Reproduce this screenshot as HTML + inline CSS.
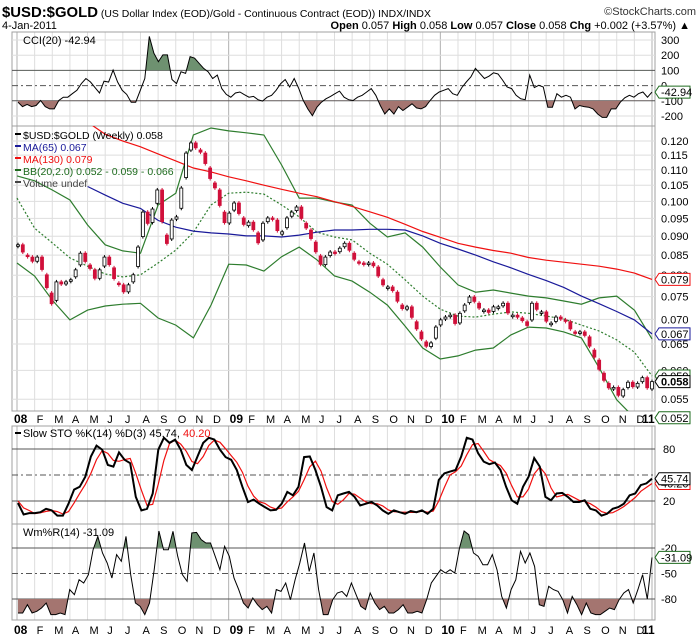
<!DOCTYPE html>
<html><head><meta charset="utf-8"><title>$USD:$GOLD</title>
<style>
html,body{margin:0;padding:0;background:#fff;width:700px;height:639px;overflow:hidden}
svg{display:block;font-family:"Liberation Sans",sans-serif}
</style></head>
<body>
<svg id="chart" width="700" height="639" viewBox="0 0 700 639" xmlns="http://www.w3.org/2000/svg">
<rect x="0" y="0" width="700" height="639" fill="#fff"/>
<text x="2" y="17" font-size="10.5" fill="#000"><tspan font-size="15" font-weight="bold" textLength="96" lengthAdjust="spacingAndGlyphs">$USD:$GOLD</tspan> <tspan textLength="330" lengthAdjust="spacingAndGlyphs">(US Dollar Index (EOD)/Gold - Continuous Contract (EOD)) INDX/INDX</tspan></text>
<text x="696" y="15" font-size="11" text-anchor="end" fill="#333">©StockCharts.com</text>
<text x="2" y="29" font-size="11">4-Jan-2011</text>
<text x="690" y="29" font-size="11" text-anchor="end"><tspan font-weight="bold">Open</tspan> 0.057  <tspan font-weight="bold">High</tspan> 0.058  <tspan font-weight="bold">Low</tspan> 0.057  <tspan font-weight="bold">Close</tspan> 0.058  <tspan font-weight="bold">Chg</tspan> +0.002 (+3.57%) ▲</text>
<g id="layer"></g>
</svg>
<script>
// ---- data ----
const monthLabels=["08","F","M","A","M","J","J","A","S","O","N","D","09","F","M","A","M","J","J","A","S","O","N","D","10","F","M","A","M","J","J","A","S","O","N","D","11"];
const priceTicks=[0.120,0.115,0.110,0.105,0.100,0.095,0.090,0.085,0.080,0.075,0.070,0.065,0.060,0.055];
const closes=[.0877,.0850,.0845,.0830,.0845,.0801,.0758,.0724,.0784,.0777,
.0784,.0789,.0813,.0855,.0825,.0813,.0784,.0813,.0845,.0818,
.0781,.0777,.0754,.0777,.0801,.0871,.0968,.0922,.0977,.1035,
.0903,.0871,.0945,.0954,.1041,.1157,.1193,.1168,.1157,.1106,
.1057,.1035,.0968,.0925,.0965,.0995,.0951,.0925,.0939,.0909,
.0871,.0936,.0951,.0945,.0903,.0912,.0951,.0968,.0983,.0936,
.0917,.0884,.0848,.0818,.0845,.0858,.0855,.0868,.0881,.0855,
.0833,.0830,.0825,.0830,.0820,.0789,.0772,.0772,.0760,.0731,
.0720,.0727,.0695,.0674,.0654,.0642,.0652,.0684,.0699,.0705,
.0709,.0684,.0713,.0731,.0749,.0735,.0720,.0720,.0713,.0727,
.0727,.0735,.0705,.0709,.0703,.0695,.0684,.0735,.0716,.0716,
.0688,.0692,.0705,.0699,.0695,.0674,.0672,.0674,.0664,.0638,
.0619,.0595,.0577,.0566,.0570,.0551,.0566,.0579,.0568,.0577,
.0587,.0562,.0580];
const ma65=[null,null,null,null,.1046,.1019,.0994,.0979,.0944,.0925,.0914,.0909,.0906,.0901,.0901,.0898,.0903,.0911,.0917,.0917,.0919,.0919,.0917,.0901,.0881,.0866,.0850,.0833,.0818,.0802,.0787,.0771,.0751,.0734,.0717,.0699,.0670];
const ma130=[null,null,null,null,.1270,.1225,.1200,.1179,.1154,.1130,.1106,.1093,.1077,.1064,.1050,.1037,.1025,.1014,.0999,.0985,.0969,.0953,.0933,.0913,.0897,.0881,.0871,.0862,.0855,.0844,.0837,.0832,.0827,.0822,.0815,.0805,.0790];
const bbUpper=[.1080,.1064,.1035,.1004,.0931,.0877,.0861,.0855,.0989,.1025,.1222,.1248,.1237,.1230,.1222,.1116,.1010,.1010,.0998,.0989,.0936,.0898,.0909,.0871,.0820,.0777,.0760,.0765,.0758,.0751,.0747,.0740,.0733,.0747,.0751,.0720,.0660];
const bbMid=[.1010,.0922,.0882,.0843,.0822,.0803,.0796,.0801,.0830,.0863,.0911,.0989,.1025,.1028,.1022,.0989,.0954,.0911,.0898,.0890,.0855,.0827,.0789,.0751,.0722,.0707,.0705,.0711,.0716,.0713,.0707,.0701,.0688,.0676,.0658,.0634,.0590];
const bbLower=[.0830,.0798,.0742,.0699,.0720,.0729,.0733,.0735,.0703,.0688,.0662,.0731,.0827,.0825,.0810,.0846,.0871,.0838,.0798,.0786,.0760,.0731,.0686,.0642,.0621,.0627,.0638,.0642,.0668,.0684,.0682,.0674,.0662,.0605,.0549,.0520,.0520];
const cci=[-109,-138,-124,-138,-131,-98,-138,-153,-153,-98,-76,-76,-53,-31,13,47,24,-13,-49,29,24,102,24,-31,-58,-109,-109,-31,47,324,213,158,202,202,40,13,91,80,191,180,147,113,91,47,69,-20,-58,-76,-49,-42,-60,-76,-71,-93,-102,-76,-64,-31,13,40,-9,47,-20,-98,-153,-198,-142,-109,-87,-71,-53,-36,-76,-93,-98,-76,-64,-42,-20,-64,-131,-187,-153,-187,-138,-164,-142,-120,-147,-153,-138,-98,-64,-42,-31,-20,-53,-64,-13,24,58,113,80,47,62,84,76,36,-9,-20,-64,-87,-93,69,-13,2,-9,-142,-142,-53,-76,-64,-76,-153,-131,-138,-142,-153,-187,-209,-209,-153,-153,-109,-80,-64,-76,-53,-42,-76,-43];
const stoK=[17.7,4.4,6,6,7.1,11,9.1,3.2,3.2,16.9,33.2,36.4,48,71.4,83.9,79.2,61.7,59.7,76.1,67.5,63.6,24.7,9.1,11,28.6,79.2,92.9,87,90.9,79.2,61.7,55.8,71.4,87,92.9,90.9,79.2,70.6,67.5,55.8,36.4,18.8,21.6,16.9,13,9.1,9.9,16.9,30.5,26.6,36.4,70.6,71.4,55.8,36.4,13,9.1,26.6,28.6,30.5,24.7,14.9,16.9,18.8,14.9,9.1,5.2,9.1,7.1,5.2,8.3,7.1,9.1,5.2,11,44.2,51.9,53.9,55.8,71.4,92.9,90.9,75.2,65.5,62.5,64.4,55.8,36.4,20.8,16.9,36.4,48,69.5,59.7,24.7,20.8,28.6,29.4,24.7,18.8,18.8,20.8,11,9.1,3.2,5.2,11,13,16.9,26.6,28.6,38.3,40.3,45.74];
const stoD=[20,12,9,5.5,6.4,8,9,7.8,5,7.8,17.8,28.8,39.2,51.9,67.8,78.2,74.9,66.9,65.8,67.8,69.1,51.9,32.5,15,16.2,39.6,66.9,86.4,90.3,85.7,77.3,65.6,63,71.4,84,90.3,87.7,80.2,72.4,64.6,53.2,37,25.6,19.1,17.2,13,10.7,12,19.1,24.7,31.2,44.5,59.5,66,54.5,35.1,19.5,16.2,21.4,28.6,27.9,23.4,18.8,16.9,16.9,14.3,9.7,7.8,7.1,7.1,6.9,6.9,8.2,7.1,8.4,20.1,35.7,50,53.9,60.4,73.4,85.1,86.3,77.2,67.7,64.1,60.9,52.2,37.7,24.7,24.7,33.8,51.3,59.1,51.3,35.1,24.7,26.3,27.6,24.3,20.8,19.5,16.9,13,7.8,5.8,6.5,9.7,13.6,18.8,24,31.2,35.7,40.2];
const wpr=[-96.5,-96.5,-86.7,-96.5,-94.5,-90.6,-84.7,-98.4,-98.4,-96.5,-98.4,-69,-74.9,-57.3,-61.2,-51.4,-22,-6.3,-25.9,-37.6,-55.3,-27.8,-35.7,-6.3,-51.4,-84.7,-88.6,-98.4,-84.7,-45.5,0,-22,-22,-0.4,-29.8,-51.4,-59.2,-2.4,-1.6,-10.2,-14.1,-14.1,-29.8,-45.5,-18,-29.8,-55.3,-69,-84.7,-90.6,-78.8,-86.7,-92.5,-88.6,-96.5,-69,-71,-61.2,-80.8,-57.3,-37.6,-14.1,-47.5,-25.9,-69,-98.4,-98.4,-80.8,-72.9,-71,-76.9,-61.2,-74.9,-88.6,-92.5,-72.9,-84.7,-92.5,-88.6,-96.5,-96.5,-92.5,-86.7,-96.5,-96.5,-94.5,-96.5,-80.8,-61.2,-53.3,-45.5,-49.4,-45.5,-49.4,-20,0,-4.3,-25.9,-29.8,-39.6,-39.6,-27.8,-45.5,-76.9,-90.6,-69,-57.3,-23.9,-37.6,-25.9,-41.6,-86.7,-88.6,-65.1,-69,-71,-80.8,-96.5,-76.9,-86.7,-98.4,-84.7,-96.5,-98.4,-98.4,-94.5,-90.6,-92.5,-80.8,-72.9,-69,-84.7,-69,-51.4,-80,-31.09];

// ---- geometry ----
const L=12,R=655,X0=17,X1=652;
const P={cci:[32,126],main:[126,411],sto:[426,524],wpr:[524,620]};
function mx(m){return X0+m*(X1-X0)/36;}
function sx(i,n){return 18+i*(X1-18)/(n-1);}
function yPrice(p){return 141-331*Math.log(p/0.12);}
function yCCI(v){return 85.6-v*0.152;}
function ySTO(v){return 501-(v-20)*52/60;}
function yWPR(v){return 548-(v+20)*51/60;}
const NS='http://www.w3.org/2000/svg';
const layer=document.getElementById('layer');
function mk(tag,attrs,parent){const e=document.createElementNS(NS,tag);for(const k in attrs)e.setAttribute(k,attrs[k]);(parent||layer).appendChild(e);return e;}
function txt(s,attrs,parent){const e=mk('text',attrs,parent);e.textContent=s;return e;}
function linePath(vals,xf,yf){let d='';vals.forEach((v,i)=>{if(v===null)return;d+=(d?'L':'M')+xf(i).toFixed(1)+','+yf(v).toFixed(1);});return d;}

const defs=mk('defs',{});
for(const k in P){const cp=mk('clipPath',{id:'clip-'+k},defs);mk('rect',{x:L,y:P[k][0],width:R-L,height:P[k][1]-P[k][0]},cp);}
function addClip(id,x,y,w,h){const cp=mk('clipPath',{id:id},defs);mk('rect',{x:x,y:y,width:w,height:h},cp);}

for(const k in P){
  const [t,b]=P[k];
  const g=mk('g',{});
  
  
  for(let m=0;m<=36;m++){
    const gl=mk('line',{x1:mx(m),x2:mx(m),y1:t,y2:b,stroke:m%12===0?'#b0b0b0':'#dedede','stroke-width':1},g);
    
    
  }
  const fr=mk('rect',{x:L,y:t,width:R-L,height:b-t,fill:'none',stroke:'#a0a0a0','stroke-width':1},g);
  
  
}

[[423,'top'],[634,'bottom']].forEach(([yy,nm])=>{
  monthLabels.forEach((lab,m)=>{
    const isY=m%12===0;
    let x=mx(m)+(isY?1:2);
    if(m===36)x=mx(m)-10;
    if(m===0)x=14;
    const t=txt(lab,{x:x,y:yy,'font-size':isY?12:11,'font-weight':isY?'bold':'normal',fill:'#000'});
    
    
  });
});

// ---- CCI panel ----
function hRef(y,dash,name){const l=mk('line',{x1:L,x2:R,y1:y,y2:y,stroke:'#555','stroke-width':1,'stroke-dasharray':dash||'none'});}
[300,200,-200].forEach(v=>{const l=mk('line',{x1:L,x2:R,y1:yCCI(v),y2:yCCI(v),stroke:'#dedede'});});
hRef(yCCI(100),null,'cci-upper-level');hRef(yCCI(-100),null,'cci-lower-level');hRef(yCCI(0),'6,3,2,3','cci-zero-level');
function fillBand(vals,xf,yf,th,above,color,panel,name){
  const n=vals.length;const ty=yf(th);
  const d=linePath(vals,xf,yf)+'L'+xf(n-1).toFixed(1)+','+ty+'L'+xf(0).toFixed(1)+','+ty+'Z';
  const id='clip-'+name;
  const [t,b]=P[panel];
  if(above)addClip(id,L,t,R-L,ty-t);else addClip(id,L,ty,R-L,b-ty);
  const p=mk('path',{d:d,fill:color,'clip-path':'url(#'+id+')',stroke:'none'});
  
  
}
const cx=i=>sx(i,cci.length);
fillBand(cci,cx,yCCI,100,true,'#6e9170','cci','cci-overbought-fill');
fillBand(cci,cx,yCCI,-100,false,'#a47570','cci','cci-oversold-fill');
const cciLine=mk('path',{d:linePath(cci,cx,yCCI),fill:'none',stroke:'#000','stroke-width':1,'clip-path':'url(#clip-cci)'});


[300,200,100,0,-100,-200].forEach(v=>{const t=txt(String(v),{x:661,y:yCCI(v)+4,'font-size':11});});

// ---- Main panel ----
priceTicks.forEach(p=>{
  const y=yPrice(p);
  const l=mk('line',{x1:L,x2:R,y1:y,y2:y,stroke:'#dedede'});
  
  
  const t=txt(p.toFixed(3),{x:661,y:y+4,'font-size':11});
  
  
});
const mg=mk('g',{'clip-path':'url(#clip-main)'});


const ovl=[[bbUpper,'#2e7d2e','none','bb-upper'],[bbLower,'#2e7d2e','none','bb-lower'],[bbMid,'#2e7d2e','2,2','bb-middle'],[ma65,'#1a1a9a','none','ma65-line'],[ma130,'#f01010','none','ma130-line']];
ovl.forEach(([arr,col,dash,name])=>{
  const p=mk('path',{d:linePath(arr,i=>mx(i),yPrice),fill:'none',stroke:col,'stroke-width':1.2,'stroke-dasharray':dash},mg);
  
  
});
closes.forEach((c,i)=>{
  const x=sx(i,closes.length);
  const o=i>0?closes[i-1]:c;
  const up=c>=o;
  const col=up?'#000':'#d0103a';
  const yo=yPrice(o),yc=yPrice(c);
  const top=Math.min(yo,yc),h=Math.max(1.5,Math.abs(yo-yc)*0.7);
  const w=mk('line',{x1:x,x2:x,y1:top-2,y2:top+h+2,stroke:col,'stroke-width':1},mg);
  
  
  const b=mk('rect',{x:x-1.5,y:top,width:3,height:h,fill:up?'#fff':col,stroke:col,'stroke-width':0.8},mg);
  
  
});
const leg=[['$USD:$GOLD (Weekly) 0.058','#000'],['MA(65) 0.067','#1a1a9a'],['MA(130) 0.079','#f01010'],['BB(20,2.0) 0.052 - 0.059 - 0.066','#1e6b1e'],['Volume undef','#444']];
leg.forEach(([s,c],i)=>{
  const y=139+i*12;
  const sw=mk('rect',{x:15,y:y-6,width:6,height:2,fill:c});
  
  
  const t=txt(s,{x:23,y:y,'font-size':10.5,fill:c});
  
  
});
function tag(y,label,col,bold,name){
  const g=mk('g',{});
  
  
  mk('polygon',{points:`655,${y} 659,${y-6} 690,${y-6} 690,${y+6} 659,${y+6}`,fill:'#fff',stroke:col,'stroke-width':1},g);
  txt(label,{x:661,y:y+4,'font-size':11,'font-weight':bold?'bold':'normal',fill:'#000'},g);
}
tag(yPrice(bbMid[36]),'0.059','#1e6b1e',false,'bb-middle-tag');
tag(yPrice(0.079),'0.079','#f01010',false,'ma130-tag');
tag(yPrice(0.067),'0.067','#1a1a9a',false,'ma65-tag');
tag(yPrice(closes[closes.length-1]),'0.058','#000',true,'last-price-tag');
tag(yPrice(0.052),'0.052','#1e6b1e',false,'bb-lower-tag');

// ---- STO panel ----
hRef(ySTO(80),null,'sto-80-level');hRef(ySTO(20),null,'sto-20-level');hRef(ySTO(50),'6,3,2,3','sto-50-level');
const kx=i=>sx(i,stoK.length);
const dL=mk('path',{d:linePath(stoD,i=>sx(i,stoD.length),ySTO),fill:'none',stroke:'#f01010','stroke-width':1.2,'clip-path':'url(#clip-sto)'});


const kL=mk('path',{d:linePath(stoK,kx,ySTO),fill:'none',stroke:'#000','stroke-width':2,'clip-path':'url(#clip-sto)'});


[80,20].forEach(v=>{const t=txt(String(v),{x:663,y:ySTO(v)+4,'font-size':11});});
const stoTitle=txt('Slow STO %K(14) %D(3) 45.74, ',{x:23,y:437,'font-size':11});


const stoTs=mk('tspan',{fill:'#f01010'},stoTitle);stoTs.textContent='40.20';
const stoSw=mk('rect',{x:15,y:432,width:6,height:2,fill:'#000'});


tag(ySTO(40.2),'40.20','#f01010',false,'sto-d-tag');
tag(ySTO(45.74),'45.74','#000',false,'sto-k-tag');

// ---- W%R panel ----
hRef(yWPR(-20),null,'wpr-20-level');hRef(yWPR(-80),null,'wpr-80-level');hRef(yWPR(-50),'6,3,2,3','wpr-50-level');
const wx=i=>sx(i,wpr.length);
fillBand(wpr,wx,yWPR,-20,true,'#6e9170','wpr','wpr-overbought-fill');
fillBand(wpr,wx,yWPR,-80,false,'#a47570','wpr','wpr-oversold-fill');
const wL=mk('path',{d:linePath(wpr,wx,yWPR),fill:'none',stroke:'#000','stroke-width':1,'clip-path':'url(#clip-wpr)'});


[-20,-50,-80].forEach(v=>{const t=txt(String(v),{x:661,y:yWPR(v)+4,'font-size':11});});
const wT=txt('Wm%R(14) -31.09',{x:23,y:536,'font-size':11});


tag(yWPR(-31.09),'-31.09','#1e6b1e',false,'wpr-tag');

const cT=txt('CCI(20) -42.94',{x:23,y:44,'font-size':11});


tag(yCCI(-42.94),'-42.94','#1e6b1e',false,'cci-tag');
</script>
</body></html>
